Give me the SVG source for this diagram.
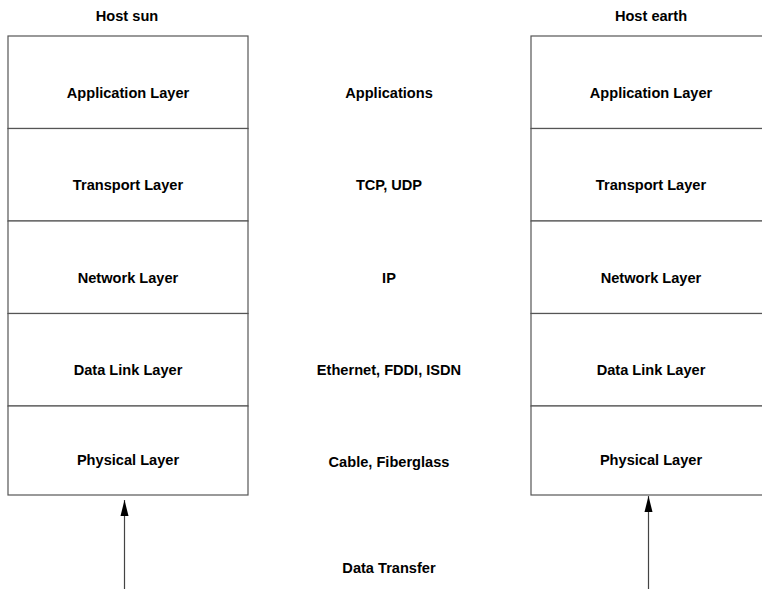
<svg xmlns="http://www.w3.org/2000/svg" width="762" height="589" viewBox="0 0 762 589">
<style>
text { font-family: "Liberation Sans", Arial, sans-serif; font-weight: bold; font-size: 14.6px; fill: #000; text-anchor: middle; }
.box { fill: #fff; stroke: #555; stroke-width: 1.2; }
.conn { stroke: #444; stroke-width: 1.2; fill: none; }
</style>
<defs>
<marker id="arr" markerWidth="18" markerHeight="10" refX="16" refY="5" orient="auto" markerUnits="userSpaceOnUse" viewBox="0 0 18 10">
<path d="M0,1 L16,5 L0,9 Z" fill="#000"/>
</marker>
</defs>
<rect width="762" height="589" fill="#fff"/>
<g id="host-sun">
<text x="127" y="21">Host sun</text>
<g id="sun-application"><rect class="box" x="8" y="36" width="240" height="92.5"/><text x="128" y="98">Application Layer</text></g>
<g id="sun-transport"><rect class="box" x="8" y="128.5" width="240" height="92.5"/><text x="128" y="190">Transport Layer</text></g>
<g id="sun-network"><rect class="box" x="8" y="221" width="240" height="92.5"/><text x="128" y="283">Network Layer</text></g>
<g id="sun-datalink"><rect class="box" x="8" y="313.5" width="240" height="92.5"/><text x="128" y="375">Data Link Layer</text></g>
<g id="sun-physical"><rect class="box" x="8" y="406" width="240" height="89"/><text x="128" y="465">Physical Layer</text></g>
</g>
<g id="host-earth">
<text x="651" y="21">Host earth</text>
<g id="earth-application"><rect class="box" x="531" y="36" width="240" height="92.5"/><text x="651" y="98">Application Layer</text></g>
<g id="earth-transport"><rect class="box" x="531" y="128.5" width="240" height="92.5"/><text x="651" y="190">Transport Layer</text></g>
<g id="earth-network"><rect class="box" x="531" y="221" width="240" height="92.5"/><text x="651" y="283">Network Layer</text></g>
<g id="earth-datalink"><rect class="box" x="531" y="313.5" width="240" height="92.5"/><text x="651" y="375">Data Link Layer</text></g>
<g id="earth-physical"><rect class="box" x="531" y="406" width="240" height="89"/><text x="651" y="465">Physical Layer</text></g>
</g>
<g id="protocols">
<text x="389" y="98">Applications</text>
<text x="389" y="190">TCP, UDP</text>
<text x="389" y="283">IP</text>
<text x="389" y="375">Ethernet, FDDI, ISDN</text>
<text x="389" y="467">Cable, Fiberglass</text>
<text x="389" y="573">Data Transfer</text>
</g>
<g id="connectors">
<line class="conn" x1="124.5" y1="589" x2="124.5" y2="500" marker-end="url(#arr)"/>
<line class="conn" x1="648.5" y1="589" x2="648.5" y2="496" marker-end="url(#arr)"/>
</g>
</svg>
